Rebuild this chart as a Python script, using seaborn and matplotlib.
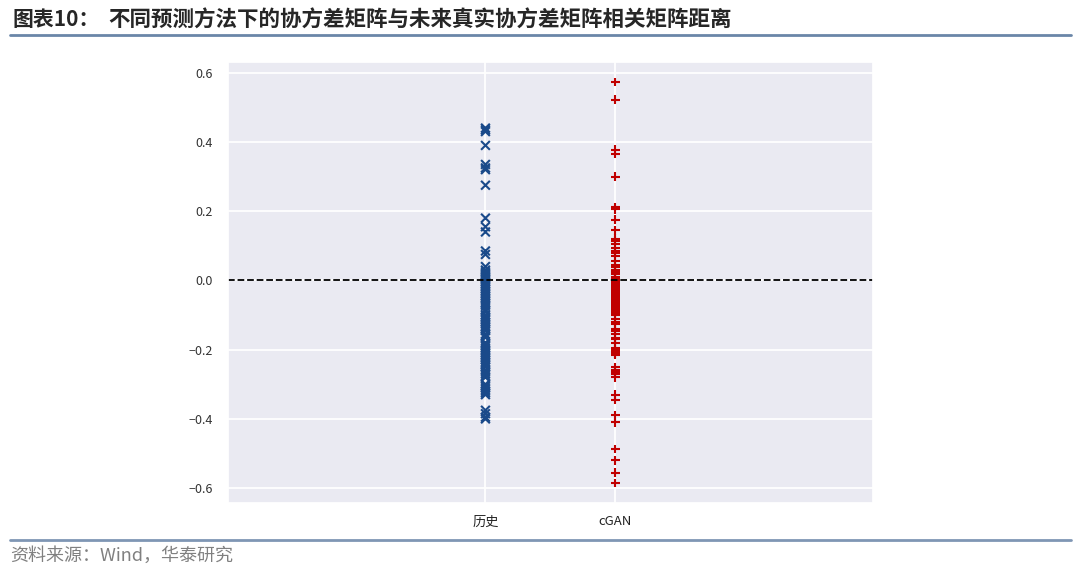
import numpy as np
import pandas as pd

import seaborn as sns
import matplotlib.pyplot as plt
from matplotlib.lines import Line2D

# distance between predicted and future realised correlation matrices
methods = ["历史", "cGAN"]

dist_hist = [0.44, 0.435, 0.43, 0.39, 0.335, 0.325, 0.32, 0.275, 0.18, 0.155, 0.14,
             0.085, 0.075, 0.04, 0.03, 0.025, 0.02, 0.015, 0.012, 0.008, 0.005, 0.0,
             -0.005, -0.01, -0.015, -0.02, -0.025, -0.03, -0.035, -0.04, -0.045, -0.05,
             -0.055, -0.06, -0.065, -0.07, -0.075, -0.085, -0.09, -0.1, -0.105, -0.11,
             -0.115, -0.12, -0.125, -0.13, -0.135, -0.14, -0.145, -0.155, -0.16, -0.165,
             -0.18, -0.185, -0.19, -0.195, -0.2, -0.205, -0.21, -0.215, -0.22, -0.225,
             -0.23, -0.235, -0.24, -0.245, -0.25, -0.26, -0.265, -0.27, -0.275, -0.28,
             -0.3, -0.305, -0.31, -0.315, -0.32, -0.325, -0.33, -0.375, -0.385, -0.395,
             -0.4]

dist_cgan = [0.573, 0.522, 0.378, 0.366, 0.30, 0.212, 0.205, 0.175, 0.145, 0.12, 0.115,
             0.105, 0.095, 0.085, 0.08, 0.07, 0.055, 0.045, 0.04, 0.03, 0.025, 0.02,
             0.01, 0.005, 0.0, -0.005, -0.01, -0.015, -0.02, -0.025, -0.03, -0.035,
             -0.04, -0.045, -0.05, -0.055, -0.06, -0.065, -0.07, -0.075, -0.08, -0.085,
             -0.09, -0.095, -0.1, -0.11, -0.12, -0.125, -0.14, -0.145, -0.155, -0.165,
             -0.17, -0.18, -0.195, -0.2, -0.205, -0.21, -0.215, -0.25, -0.26, -0.265,
             -0.27, -0.28, -0.33, -0.345, -0.39, -0.41, -0.487, -0.52, -0.555, -0.585]

colors = {"历史": "#1a4a8a", "cGAN": "#c00000"}
markers = {"历史": "x", "cGAN": "+"}

data = pd.DataFrame({
    "method": [methods[0]] * len(dist_hist) + [methods[1]] * len(dist_cgan),
    "dist": dist_hist + dist_cgan,
})

sns.set_theme(style="darkgrid")
plt.rcParams['font.family'] = ['Noto Sans CJK SC', 'DejaVu Sans']

fig = plt.figure(figsize=(10.8, 5.71), dpi=100)
ax = fig.add_axes([0.2111, 0.1191, 0.5972, 0.7723])

sns.scatterplot(data=data, x="method", y="dist", hue="method", style="method",
                palette=colors, markers=markers, s=40, linewidth=1.5, legend=False, ax=ax)
ax.axhline(0, color="black", linestyle="--", linewidth=1.3)

ax.set_xlim(-1.98, 2.98)
ax.set_yticks([-0.6, -0.4, -0.2, 0.0, 0.2, 0.4, 0.6])
ax.set_xlabel("")
ax.set_ylabel("")
ax.tick_params(axis="y", labelsize=9, colors="#333333", pad=5)
ax.tick_params(axis="x", labelsize=9.5, colors="#222222", pad=3)
ax.grid(True, color="white", linewidth=1.3)

# header and footer of the report page
fig.text(12 / 1080, 1 - 20 / 571, "图表10：", fontsize=15, fontweight="bold", va="center")
fig.text(108 / 1080, 1 - 20 / 571, "不同预测方法下的协方差矩阵与未来真实协方差矩阵相关矩阵距离",
         fontsize=15.5, fontweight="bold", va="center")
fig.add_artist(Line2D([10 / 1080, 1071 / 1080], [1 - 35 / 571, 1 - 35 / 571],
                      color="#6a86a8", linewidth=2))
fig.add_artist(Line2D([10 / 1080, 1071 / 1080], [1 - 540 / 571, 1 - 540 / 571],
                      color="#7f96b4", linewidth=2))
fig.text(10 / 1080, 1 - 556 / 571, "资料来源：Wind，华泰研究", fontsize=13,
         color="#808080", va="center")

fig.savefig("out.png", dpi=100)
